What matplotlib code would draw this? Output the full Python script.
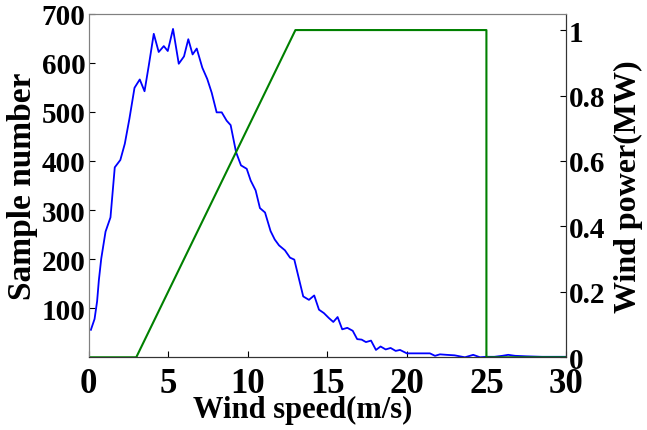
import matplotlib.pyplot as plt

# === 風速樣本分佈 ===
wind_speed = [0.15, 0.38, 0.54, 0.65, 0.8, 1.07, 1.38, 1.65, 2.0, 2.28, 2.57, 2.89,
              3.22, 3.52, 3.79, 4.1, 4.41, 4.73, 4.98, 5.31, 5.67, 6.0, 6.27, 6.54,
              6.8, 7.15, 7.46, 7.74, 8.05, 8.37, 8.68, 8.93, 9.27, 9.58, 9.94, 10.19,
              10.5, 10.77, 11.09, 11.44, 11.7, 11.97, 12.34, 12.66, 12.93, 13.49, 13.85,
              14.18, 14.48, 14.79, 15.1, 15.38, 15.65, 15.94, 16.26, 16.6, 16.88, 17.16,
              17.43, 17.75, 18.06, 18.35, 18.67, 18.98, 19.3, 19.57, 19.88, 20.0, 20.5,
              21.0, 21.45, 21.77, 22.08, 22.5, 23.0, 23.65, 24.17, 24.6, 25.0, 25.5,
              26.0, 26.37, 26.8, 27.5, 28.5, 30.0]
sample_count = [56, 78, 114, 157, 201, 256, 285, 387, 402, 435, 486, 549,
                566, 542, 595, 659, 622, 634, 624, 669, 598, 613, 648, 617,
                629, 590, 567, 539, 499, 499, 482, 473, 418, 391, 384, 360,
                340, 304, 295, 257, 240, 228, 218, 203, 199, 124, 117,
                126, 97, 90, 80, 72, 82, 57, 60, 54, 37, 36,
                31, 34, 15, 22, 16, 19, 13, 15, 10, 8, 8,
                8, 8, 3, 6, 5, 4, 0, 5, 0, 1, 1,
                3, 5, 3, 2, 1, 1]

# === 風機功率曲線 ===
curve_speed = [0, 3, 13, 25, 25, 30]
curve_power = [0, 0, 1, 1, 0, 0]

left_ticks = [100, 200, 300, 400, 500, 600, 700]
right_ticks = [0, 0.2, 0.4, 0.6, 0.8, 1]
right_labels = ["0", "0.2", "0.4", "0.6", "0.8", "1"]
x_ticks = [0, 5, 10, 15, 20, 25, 30]

plt.rcParams['font.family'] = ['Liberation Serif', 'DejaVu Serif']
plt.rcParams['font.weight'] = 'bold'

fig = plt.figure(figsize=(6.47, 4.31), dpi=100)
ax = fig.add_axes([0.1368, 0.1687, 0.738, 0.7972])
ax.plot(wind_speed, sample_count, color="#0000ff", linewidth=1.3)
ax.set_xlim(0, 30)
ax.set_ylim(0, 700)
ax.set_xticks(x_ticks)
ax.set_yticks(left_ticks)
ax.tick_params(axis="y", direction="in", labelsize=21, pad=2, length=4)
ax.tick_params(axis="x", direction="in", labelsize=25, pad=7, length=4)
for lab in ax.get_xticklabels() + ax.get_yticklabels():
    lab.set_fontweight("bold")
ax.set_xlabel("Wind speed(m/s)", fontsize=22, fontweight="bold")
ax.xaxis.label.set_verticalalignment("center")
ax.xaxis.set_label_coords(0.449, -0.152)
ax.set_ylabel("Sample number", fontsize=24, fontweight="bold", labelpad=3)

ax2 = ax.twinx()
ax2.plot(curve_speed, curve_power, color="#008000", linewidth=1.5)
ax2.set_ylim(0, 1.05)
ax2.set_yticks(right_ticks)
ax2.set_yticklabels(right_labels)
ax2.tick_params(axis="y", direction="in", labelsize=21, pad=2, length=4)
for lab in ax2.get_yticklabels():
    lab.set_fontweight("bold")
ax2.set_ylabel("Wind power(MW)", fontsize=23, fontweight="bold", labelpad=6)

# 邊框顏色
for a in (ax, ax2):
    a.spines["left"].set_color("#808080")
    a.spines["top"].set_color("#808080")
    a.spines["bottom"].set_color("#333333")
    a.spines["right"].set_color("#333333")

fig.savefig("out.png", dpi=100)
